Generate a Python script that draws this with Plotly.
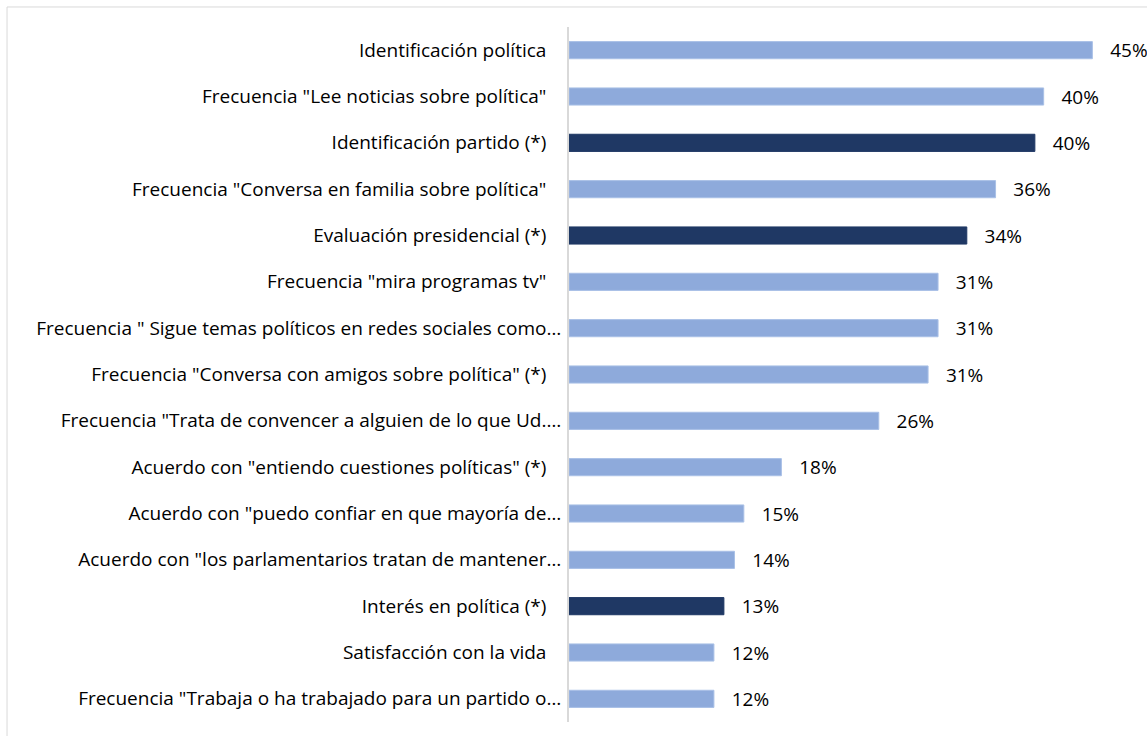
import plotly.graph_objects as go

categories = [
    "Identificación política",
    'Frecuencia "Lee noticias sobre política"',
    "Identificación partido (*)",
    'Frecuencia "Conversa en familia sobre política"',
    "Evaluación presidencial (*)",
    'Frecuencia "mira programas tv"',
    'Frecuencia " Sigue temas políticos en redes sociales como…',
    'Frecuencia "Conversa con amigos sobre política" (*)',
    'Frecuencia "Trata de convencer a alguien de lo que Ud.…',
    'Acuerdo con "entiendo cuestiones políticas" (*)',
    'Acuerdo con "puedo confiar en que mayoría de…',
    'Acuerdo con "los parlamentarios tratan de mantener…',
    "Interés en política (*)",
    "Satisfacción con la vida",
    'Frecuencia "Trabaja o ha trabajado para un partido o…',
]
values = [44.6, 40.45, 39.7, 36.35, 33.9, 31.45, 31.45, 30.6, 26.4, 18.1, 14.9, 14.1, 13.2, 12.35, 12.35]
group = ["a", "a", "b", "a", "b", "a", "a", "a", "a", "a", "a", "a", "b", "a", "a"]

COLORS = {"a": "#8EAADB", "b": "#1F3864"}
LINES = {"a": "#A9C0E6", "b": "#1F3864"}
FONT = "Open Sans"
FS = 19

ticktext = [c if c.endswith("…") else c + "\u00a0" * 3 for c in categories]

fig = go.Figure(
    go.Bar(
        x=values,
        y=categories,
        orientation="h",
        marker=dict(color=[COLORS[g] for g in group],
                    line=dict(color=[LINES[g] for g in group], width=1)),
        width=0.37,
        text=[f"\u00a0\u00a0\u00a0{v:.0f}%" for v in values],
        textposition="outside",
        textfont=dict(family=FONT, size=FS, color="#000000"),
        constraintext="none",
        cliponaxis=False,
        hoverinfo="skip",
    )
)

fig.update_layout(
    width=1147,
    height=736,
    margin=dict(l=569, r=30, t=27, b=14),
    paper_bgcolor="white",
    plot_bgcolor="white",
    showlegend=False,
    font=dict(family=FONT, size=FS, color="#000000"),
    uniformtext=dict(minsize=FS, mode="show"),
    xaxis=dict(range=[0, 46.7], visible=False, showgrid=False, zeroline=False),
    yaxis=dict(
        autorange="reversed",
        tickmode="array",
        tickvals=categories,
        ticktext=ticktext,
        showline=True,
        linecolor="#D9D9D9",
        linewidth=2,
        ticks="",
        showgrid=False,
        ticklabelstandoff=2,
        tickfont=dict(family=FONT, size=FS, color="#000000"),
    ),
    shapes=[
        dict(type="rect", xref="paper", yref="paper",
             x0=-1.0255, x1=1.08, y0=-0.04, y1=1.0288,
             line=dict(color="#D9D9D9", width=1), fillcolor="rgba(0,0,0,0)", layer="below"),
    ],
)

fig.write_html("out.html", config={"displayModeBar": False},
               post_script="document.body.style.margin='0px';")
